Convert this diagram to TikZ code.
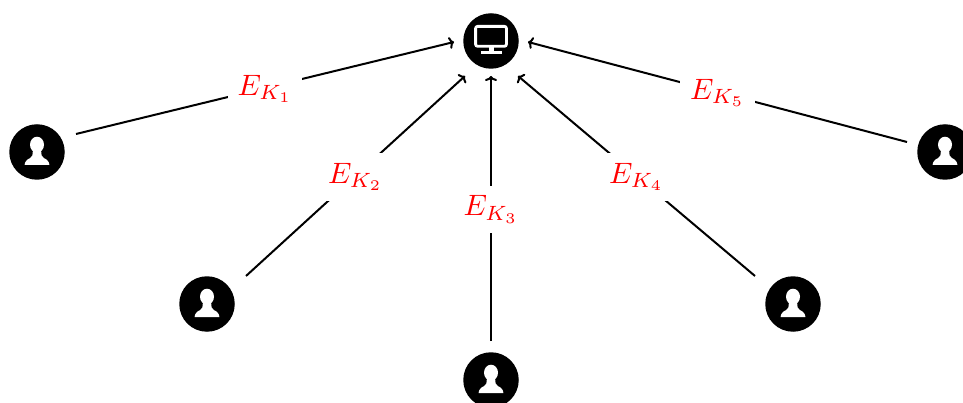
\documentclass[tikz,border=0pt]{standalone}
\usetikzlibrary{arrows.meta}
\tikzset{
  x=1pt,y=-1pt,
  person/.style={circle,fill=black,minimum size=55.5pt,inner sep=0pt,outer sep=0pt},
  link/.style={line width=2pt,-{To[length=5pt,width=12pt,line width=2pt]}},
  keylabel/.style={midway,fill=white,text=red,inner sep=10pt,yshift=-1pt},
  usericon/.pic={
    \fill[white] (0,-7.3) ellipse (7 and 8);
    \fill[white] (-12.4,13) .. controls (-12.2,9.5) and (-10,7.5) .. (-6.8,6) .. controls (-4.8,5) and (-4.2,3) .. (-4.2,-1) -- (4.2,-1) .. controls (4.2,3) and (4.8,5) .. (6.8,6) .. controls (10,7.5) and (12.2,9.5) .. (12.4,13) -- cycle;
  },
  screenicon/.pic={
    \draw[white,line width=2.8pt,rounded corners=2pt] (-15.4,-14.6) rectangle (15.4,5.3);
    \fill[white] (-2.5,6) rectangle (2.5,10);
    \fill[white] (-10.5,10) rectangle (10.5,13.3);
  }
}
\newcommand{\keytext}[1]{\scalebox{2.95}{$E_{K_{#1}}$}}
\begin{document}
\begin{tikzpicture}
\useasboundingbox (0,0) rectangle (963,403);
\clip (0,0) rectangle (963,403);
\node[person] (server) at (491,41) {};
\node[person] (u1) at (37,152) {};
\node[person] (u2) at (207,304) {};
\node[person] (u3) at (491,380) {};
\node[person] (u4) at (793,304) {};
\node[person] (u5) at (945,152) {};
\pic at (server) {screenicon};
\pic at (u1) {usericon};
\pic at (u2) {usericon};
\pic at (u3) {usericon};
\pic at (u4) {usericon};
\pic at (u5) {usericon};
\draw[link] ([shift={(39,-18)}]u1.center) -- node[keylabel] (k1) {\keytext{1}} ([shift={(-37,1)}]server.center);
\draw[link] ([shift={(39,-28)}]u2.center) -- node[keylabel] (k2) {\keytext{2}} ([shift={(-26,35)}]server.center);
\draw[link] ([shift={(0,-39)}]u3.center) -- node[keylabel] (k3) {\keytext{3}} ([shift={(0,35)}]server.center);
\draw[link] ([shift={(-38,-28)}]u4.center) -- node[keylabel] (k4) {\keytext{4}} ([shift={(27,35)}]server.center);
\draw[link] ([shift={(-38,-10)}]u5.center) -- node[keylabel] (k5) {\keytext{5}} ([shift={(37,1)}]server.center);
\end{tikzpicture}
\end{document}
